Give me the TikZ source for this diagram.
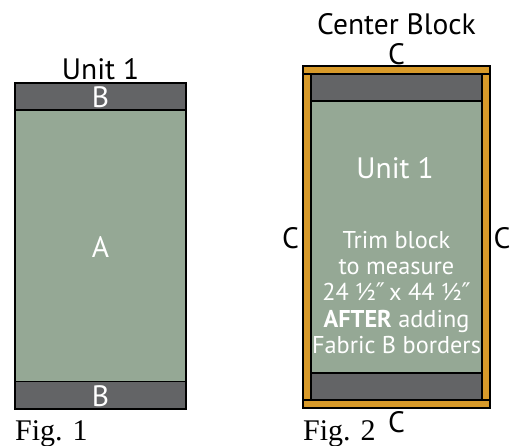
\documentclass[tikz,border=0pt]{standalone}
\usepackage{fontspec}
\setmainfont{PT Sans}
\newfontfamily\figfont{Liberation Serif}
\newfontfamily\symfont{DejaVu Sans}
\newcommand{\dprime}{{\symfont ″}}
\definecolor{bgray}{HTML}{636466}
\definecolor{agreen}{HTML}{95A895}
\definecolor{corange}{HTML}{D89A2A}
\tikzset{
  patch/.style={draw=black, line width=1.2pt},
  lbl/.style={inner sep=0pt, font=\fontsize{29.5}{30}\selectfont},
  wlbl/.style={lbl, text=white},
  smalltxt/.style={inner sep=0pt, text=white, align=center, font=\fontsize{24.3}{26.3}\selectfont},
  figlbl/.style={inner sep=0pt, anchor=base west, font=\figfont\fontsize{30}{30}\selectfont}
}
\begin{document}
\begin{tikzpicture}[x=1pt,y=-1pt]
\useasboundingbox (0,0) rectangle (511,445);
% Fig 1
\fill[agreen] (15,110) rectangle (186,381.5);
\draw[patch, fill=bgray] (15,83) rectangle (186,110);
\draw[patch, fill=bgray] (15,381.5) rectangle (186,409);
\draw[patch] (15,83) rectangle (186,409);
\node[lbl] (u1) at (100.5,69) {Unit 1};
\node[wlbl] (b1) at (100.5,97) {B};
\node[wlbl] (a) at (100.5,247) {A};
\node[wlbl] (b2) at (100.5,396) {B};
\node[figlbl] (f1) at (15,440) {Fig. 1};
% Fig 2
\draw[patch, fill=corange] (303,66) rectangle (490,74);
\draw[patch, fill=corange] (303,400) rectangle (490,408);
\draw[patch, fill=corange] (303,74) rectangle (311,400);
\draw[patch, fill=corange] (482,74) rectangle (490,400);
\fill[agreen] (311,101) rectangle (482,373);
\draw[patch, fill=bgray] (311,74) rectangle (482,101);
\draw[patch, fill=bgray] (311,373) rectangle (482,400);
\draw[patch] (311,74) rectangle (482,400);
\node[lbl] (cb) at (396.5,24) {Center Block};
\node[lbl] (ct) at (396.5,54) {C};
\node[lbl] (cl) at (290.5,238) {C};
\node[lbl] (cr) at (502,238) {C};
\node[lbl] (cbot) at (396.5,422) {C};
\node[wlbl] (u2) at (395,168.5) {Unit 1};
\node[smalltxt] (trim) at (396.5,292.5) {Trim block\\to measure\\24 ½\dprime\,x 44 ½\dprime\\\textbf{AFTER} adding\\Fabric B borders};
\node[figlbl] (f2) at (303,440) {Fig. 2};
\end{tikzpicture}
\end{document}
